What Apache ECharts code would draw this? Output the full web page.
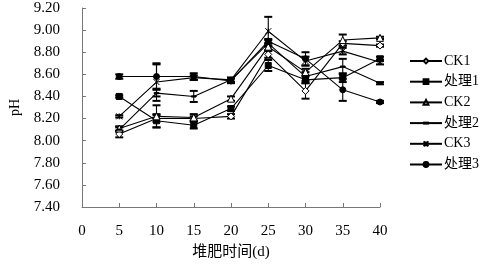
<!DOCTYPE html>
<html>
<head>
<meta charset="utf-8">
<script src="https://cdn.jsdelivr.net/npm/echarts@6/dist/echarts.min.js"></script>
<style>
html, body { margin: 0; padding: 0; background: #fff; }
#chart { width: 486px; height: 265px; }
</style>
</head>
<body>
<div id="chart"></div>
<script>
// 堆肥天数
const days = [5, 10, 15, 20, 25, 30, 35, 40];
// pH 均值
const ck1 = [8.06, 8.20, 8.20, 8.22, 8.78, 8.45, 8.88, 8.86];
const t1 = [8.40, 8.18, 8.14, 8.29, 8.68, 8.55, 8.57, 8.74];
const ck2 = [8.11, 8.22, 8.21, 8.38, 8.85, 8.62, 8.91, 8.93];
const t2 = [8.10, 8.43, 8.40, 8.55, 8.88, 8.58, 8.67, 8.52];
const ck3 = [8.22, 8.53, 8.57, 8.55, 8.99, 8.72, 8.81, 8.71];
const t3 = [8.58, 8.58, 8.58, 8.54, 8.90, 8.74, 8.46, 8.35];
// 标准误
const ck1Err = [0.03, 0.03, 0.02, 0.02, 0.03, 0.07, 0.02, 0.01];
const t1Err = [0.01, 0.06, 0.03, 0.02, 0.05, 0.03, 0.04, 0.02];
const ck2Err = [0.02, 0.10, 0.03, 0.02, 0.03, 0.03, 0.05, 0.01];
const t2Err = [0.02, 0.03, 0.05, 0.02, 0.03, 0.04, 0.07, 0.01];
const ck3Err = [0.01, 0.17, 0.02, 0.02, 0.13, 0.04, 0.03, 0.02];
const t3Err = [0.02, 0.11, 0.03, 0.02, 0.02, 0.06, 0.10, 0.01];

const serif = "'Liberation Serif', 'Times New Roman', serif";
const cjk = "'Liberation Serif', 'Noto Sans CJK SC', serif";

// 短横标记：用退化的角点把包围盒撑成正方形
const dash = "path://M0,0L0,0M1,4L9,4L9,6L1,6ZM10,10L10,10";
const cross = "path://M0,0L10,10M10,0L0,10M5,0L5,10";

const groups = [
  { name: "CK1", vals: ck1, err: ck1Err, symbol: "diamond", size: 7, fill: "#fff" },
  { name: "处理1", vals: t1, err: t1Err, symbol: "rect", size: 6, fill: "#000" },
  { name: "CK2", vals: ck2, err: ck2Err, symbol: "triangle", size: 7, fill: "#fff" },
  { name: "处理2", vals: t2, err: t2Err, symbol: dash, size: 6, fill: "#000" },
  { name: "CK3", vals: ck3, err: ck3Err, symbol: cross, size: 6, fill: "none" },
  { name: "处理3", vals: t3, err: t3Err, symbol: "circle", size: 6, fill: "#000" },
];

function renderErr(params, api) {
  const x = api.value(0);
  const lo = api.coord([x, api.value(1)]);
  const hi = api.coord([x, api.value(2)]);
  const w = 4;
  const st = { stroke: "#000", lineWidth: 1.1 };
  const cap = { stroke: "#000", lineWidth: 2 };
  return {
    type: "group",
    children: [
      { type: "line", shape: { x1: lo[0], y1: lo[1], x2: hi[0], y2: hi[1] }, style: st },
      { type: "line", shape: { x1: lo[0] - w, y1: lo[1], x2: lo[0] + w, y2: lo[1] }, style: cap },
      { type: "line", shape: { x1: hi[0] - w, y1: hi[1], x2: hi[0] + w, y2: hi[1] }, style: cap },
    ],
  };
}

let errData = [];
groups.forEach((g) => {
  g.vals.forEach((v, i) => {
    errData.push([days[i], v - g.err[i], v + g.err[i]]);
  });
});

let series = [
  {
    type: "custom",
    name: "err",
    renderItem: renderErr,
    data: errData,
    z: 1,
    silent: true,
  },
];
groups.forEach((g) => {
  series.push({
    name: g.name,
    type: "line",
    data: g.vals.map((v, i) => [days[i], v]),
    symbol: g.symbol,
    symbolSize: g.size,
    showSymbol: true,
    z: 3,
    lineStyle: { color: "#000", width: 1.1 },
    itemStyle: {
      color: g.fill,
      borderColor: "#000",
      borderWidth: 1,
      opacity: 1,
    },
    emphasis: { disabled: true },
  });
});

const chart = echarts.init(document.getElementById("chart"));
chart.setOption({
  animation: false,
  backgroundColor: "#fff",
  legend: {
    orient: "vertical",
    left: 404,
    top: 48,
    itemWidth: 32,
    itemHeight: 6,
    itemGap: 4.7,
    data: groups.map((g) => g.name),
    textStyle: {
      color: "#000",
      fontSize: 14,
      lineHeight: 16,
      fontFamily: cjk,
      padding: [0, 0, 0, -3],
    },
  },
  grid: { left: 79, right: 106, top: 8, bottom: 56 },
  xAxis: {
    type: "value",
    min: 0,
    max: 40,
    interval: 5,
    name: "堆肥时间(d)",
    nameLocation: "middle",
    nameGap: 38,
    nameTextStyle: { color: "#000", fontSize: 15, fontFamily: cjk },
    axisLine: { lineStyle: { color: "#777", width: 1 } },
    axisTick: { inside: true, length: 4, lineStyle: { color: "#777" } },
    axisLabel: { color: "#000", fontSize: 15, fontFamily: serif, margin: 17 },
    splitLine: { show: false },
  },
  yAxis: {
    type: "value",
    min: 7.4,
    max: 9.2,
    interval: 0.2,
    name: "pH",
    nameLocation: "middle",
    nameGap: 60,
    nameTextStyle: { color: "#000", fontSize: 14, fontFamily: serif },
    axisLine: { show: true, lineStyle: { color: "#777", width: 1 } },
    axisTick: { show: true, inside: true, length: 4, lineStyle: { color: "#777" } },
    axisLabel: {
      color: "#000",
      fontSize: 15,
      fontFamily: serif,
      margin: 22,
      formatter: (v) => v.toFixed(2),
    },
    splitLine: { show: false },
  },
  series: series,
});
</script>
</body>
</html>
